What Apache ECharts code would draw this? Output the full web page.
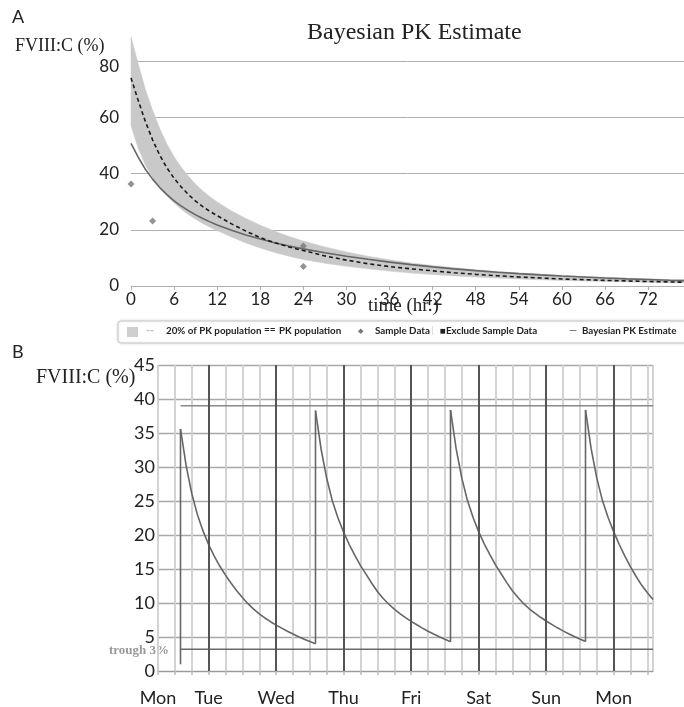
<!DOCTYPE html>
<html><head><meta charset="utf-8">
<script src="https://cdn.jsdelivr.net/npm/echarts@6/dist/echarts.min.js"></script>
<style>html,body{margin:0;padding:0;background:#fff}#c{width:684px;height:707px}</style>
</head><body><div id="c"></div>
<script>
// ---------- Panel A data ----------
const timeA        = [0, 1, 2, 3, 4, 5, 6, 7, 8, 9, 10, 11, 12, 14, 16, 18, 20, 22, 24, 27, 30, 33, 36, 39, 42, 45, 48, 51, 54, 57, 60, 63, 66, 69, 72, 75, 77];
const bandUpper    = [88.6, 79, 70, 62.5, 56, 50.5, 46, 42.2, 39, 36.2, 33.8, 31.7, 29.9, 26.7, 24.0, 21.6, 19.5, 17.6, 16.0, 13.9, 12.1, 10.6, 9.3, 8.2, 7.3, 6.5, 5.8, 5.2, 4.65, 4.2, 3.8, 3.4, 3.1, 2.8, 2.55, 2.3, 2.2];
const bandLower    = [57, 49, 43, 38.5, 35, 32, 29.5, 27.3, 25.4, 23.7, 22.2, 20.9, 19.7, 17.4, 15.3, 13.5, 11.9, 10.6, 9.4, 8.1, 7.0, 6.1, 5.3, 4.6, 4.1, 3.6, 3.2, 2.85, 2.5, 2.2, 2.0, 1.8, 1.6, 1.45, 1.3, 1.15, 1.1];
const pkPopulation = [74, 66, 58.5, 52, 46.5, 42, 38.3, 35.2, 32.5, 30.2, 28.2, 26.5, 25.0, 22.1, 19.5, 17.2, 15.4, 13.9, 12.6, 10.7, 9.2, 7.9, 6.9, 6.1, 5.4, 4.7, 4.15, 3.65, 3.2, 2.85, 2.5, 2.25, 2.0, 1.8, 1.6, 1.45, 1.35];
const bayesianPK   = [50.7, 45.8, 41.5, 38.0, 35.0, 32.5, 30.3, 28.4, 26.8, 25.3, 24.0, 22.8, 21.7, 19.8, 18.1, 16.7, 15.4, 14.2, 13.2, 11.8, 10.6, 9.5, 8.5, 7.6, 6.8, 6.1, 5.45, 4.9, 4.4, 3.95, 3.55, 3.2, 2.85, 2.55, 2.3, 2.05, 1.9];
const sampleTimes  = [0, 3, 24, 24];
const sampleValues = [36.3, 23.1, 14.2, 6.9];
const yTicksA = { min: 0, max: 80, step: 20 };
const xTicksA = { min: 0, max: 77, step: 6 };

// ---------- Panel B data ----------
const doseHours      = [8, 56, 104, 152];
const preDoseLevel   = 1.0;
const hoursAfterDose = [0, 2, 4, 6, 8, 10, 12, 14, 16, 18, 20, 22, 24, 26, 28, 30, 32, 34, 36, 38, 40, 42, 44, 46, 48];
const cycle1 = [35.6, 30.2, 26.1, 23.0, 20.6, 18.6, 16.9, 15.4, 14.1, 12.9, 11.8, 10.8, 9.9, 9.1, 8.4, 7.8, 7.25, 6.75, 6.3, 5.85, 5.43, 5.04, 4.68, 4.34, 4.0];
const cycle2 = [38.3, 32.6, 28.3, 25.0, 22.5, 20.4, 18.6, 17.0, 15.5, 14.2, 12.9, 11.7, 10.7, 9.85, 9.1, 8.45, 7.85, 7.3, 6.8, 6.3, 5.85, 5.43, 5.04, 4.67, 4.3];
const cycle3 = [38.4, 32.7, 28.4, 25.1, 22.6, 20.5, 18.7, 17.1, 15.6, 14.3, 13.0, 11.8, 10.8, 9.9, 9.15, 8.5, 7.9, 7.35, 6.85, 6.35, 5.9, 5.47, 5.08, 4.7, 4.33];
const cycle4 = [38.4, 32.7, 28.4, 25.1, 22.6, 20.5, 18.6, 16.9, 15.3, 13.9, 12.6, 11.5, 10.5];
const peakRefLevel = 39.0;
const troughLevel  = 3.2;
const dayNames = ['Mon', 'Tue', 'Wed', 'Thu', 'Fri', 'Sat', 'Sun', 'Mon'];
const dayHours = [0, 18, 42, 66, 90, 114, 138, 162];
const xMaxB = 176;
const yTicksB = { min: 0, max: 45, step: 5 };

// ---------- build ----------
const zip = (xs, ys) => xs.map((x, i) => [x, ys[i]]);
const cycles = [cycle1, cycle2, cycle3, cycle4];
const jumps = [];
cycles.forEach((c, k) => {
  const before = k === 0 ? preDoseLevel : cycles[k - 1][cycles[k - 1].length - 1];
  jumps.push([doseHours[k], before], [doseHours[k], c[0]], null);
});

const sans = 'Lato';
const serifF = '"Liberation Serif"';

const cycleSeries = cycles.map((c, k) => ({
  name: 'cycle' + (k + 1), type: 'line', xAxisIndex: 1, yAxisIndex: 1,
  data: c.map((v, i) => [doseHours[k] + hoursAfterDose[i], v]),
  symbol: 'none', smooth: false, lineStyle: { color: '#666', width: 1.6 }, z: 4
}));
cycleSeries[0].markLine = {
  silent: true, symbol: ['none', 'none'], label: { show: false },
  lineStyle: { type: 'solid', color: '#555', width: 2 },
  data: dayHours.slice(1).map(h => ({ xAxis: h }))
};

const chart = echarts.init(document.getElementById('c'), null, { renderer: 'canvas' });
chart.setOption({
  animation: false,
  backgroundColor: '#fff',
  grid: [
    { left: 131, top: 61, width: 553, height: 225 },
    { left: 158, top: 365, width: 495, height: 306 }
  ],
  xAxis: [
    {
      gridIndex: 0, type: 'value', min: xTicksA.min, max: xTicksA.max, interval: xTicksA.step,
      axisLine: { show: true, lineStyle: { color: '#b0b0b0', width: 1 } },
      axisTick: { show: true, length: 4, lineStyle: { color: '#b0b0b0' } },
      splitLine: { show: false },
      axisLabel: { showMaxLabel: false, color: '#222', fontFamily: sans, fontSize: 17, margin: 5 }
    },
    {
      gridIndex: 1, type: 'value', min: 0, max: xMaxB, interval: 6,
      axisLine: { show: true, lineStyle: { color: '#999', width: 1.2 } },
      axisTick: { show: true, length: 4, lineStyle: { color: '#bbb', width: 1.5 } },
      splitLine: { show: true, lineStyle: { color: '#cfcfcf', width: 1.8 } },
      axisLabel: {
        showMaxLabel: false, hideOverlap: false, color: '#222', fontFamily: sans, fontSize: 18, margin: 18,
        formatter: v => { const i = dayHours.indexOf(v); return i >= 0 ? dayNames[i] : ''; }
      }
    }
  ],
  yAxis: [
    {
      gridIndex: 0, type: 'value', min: yTicksA.min, max: yTicksA.max, interval: yTicksA.step,
      axisLine: { show: false }, axisTick: { show: false },
      splitLine: { show: true, lineStyle: { color: '#b0b0b0', width: 1 } },
      axisLabel: {
        color: '#222', fontFamily: sans, fontSize: 17, margin: 12,
        formatter: v => v === yTicksA.max ? '{d|' + v + '}' : String(v),
        rich: { d: { fontFamily: sans, fontSize: 17, color: '#222', padding: [12, 0, 0, 0] } }
      }
    },
    {
      gridIndex: 1, type: 'value', min: yTicksB.min, max: yTicksB.max, interval: yTicksB.step,
      axisLine: { show: false }, axisTick: { show: false },
      splitLine: { show: true, lineStyle: { color: '#a8a8a8', width: 1.3 } },
      axisLabel: { color: '#222', fontFamily: sans, fontSize: 18, margin: 3 }
    }
  ],
  series: [
    {
      name: '20% of PK population', type: 'custom', xAxisIndex: 0, yAxisIndex: 0, clip: false, silent: true, z: 1,
      data: timeA.map((t, i) => [t, bandLower[i], bandUpper[i]]),
      encode: { x: 0, y: [1, 2] },
      renderItem: (params, api) => {
        if (params.dataIndex !== 0) return null;
        const top = timeA.map((t, i) => api.coord([t, bandUpper[i]]));
        const bot = timeA.map((t, i) => api.coord([t, bandLower[i]])).reverse();
        return { type: 'polygon', shape: { points: top.concat(bot) }, style: { fill: '#c9c9c9', stroke: '#c9c9c9', lineWidth: 0.5 } };
      }
    },
    { name: 'Bayesian PK Estimate', type: 'line', xAxisIndex: 0, yAxisIndex: 0, data: zip(timeA, bayesianPK), z: 3,
      symbol: 'none', smooth: false, lineStyle: { color: '#666', width: 1.6 } },
    { name: 'PK population', type: 'line', xAxisIndex: 0, yAxisIndex: 0, data: zip(timeA, pkPopulation), z: 4,
      symbol: 'none', smooth: false, lineStyle: { color: '#1a1a1a', width: 1.6, type: [4, 3] } },
    { name: 'Sample Data', type: 'scatter', xAxisIndex: 0, yAxisIndex: 0, data: zip(sampleTimes, sampleValues), z: 5,
      symbol: 'diamond', symbolSize: 7, itemStyle: { color: '#777' }, clip: false },

    { name: 'peakRef', type: 'line', xAxisIndex: 1, yAxisIndex: 1,
      data: [[doseHours[0], peakRefLevel], [xMaxB, peakRefLevel]], symbol: 'none', lineStyle: { color: '#8a8a8a', width: 1.5 } },
    { name: 'trough', type: 'line', xAxisIndex: 1, yAxisIndex: 1,
      data: [[doseHours[0], troughLevel], [xMaxB, troughLevel]], symbol: 'none', lineStyle: { color: '#6a6a6a', width: 1.5 } },
    { name: 'jumps', type: 'line', xAxisIndex: 1, yAxisIndex: 1, data: jumps, connectNulls: false,
      symbol: 'none', lineStyle: { color: '#666', width: 1.6 }, z: 4 }
  ].concat(cycleSeries),
  graphic: [
    { type: 'text', left: 12, top: 8, style: { text: 'A', font: '18px ' + sans, fill: '#222' } },
    { type: 'text', left: 12, top: 343, style: { text: 'B', font: '18px ' + sans, fill: '#222' } },
    { type: 'text', left: 307, top: 21, style: { text: 'Bayesian PK Estimate', font: '24px ' + serifF, fill: '#222' } },
    { type: 'text', left: 15, top: 37, style: { text: 'FVIII:C (%)', font: '18px ' + serifF, fill: '#222' } },
    { type: 'text', left: 368, top: 297, style: { text: 'time (hr.)', font: '19px ' + serifF, fill: '#222' } },
    { type: 'text', left: 36, top: 368, style: { text: 'FVIII:C (%)', font: '20px ' + serifF, fill: '#222' } },
    { type: 'text', right: 684 - 169, top: 644, style: { text: 'trough 3%', font: 'bold 13px ' + serifF, fill: '#999', align: 'right' } },
    // legend
    { type: 'rect', shape: { x: 118, y: 321, width: 580, height: 22, r: 3 }, style: { fill: '#fff', stroke: '#c8c8c8', lineWidth: 1, shadowBlur: 3, shadowColor: 'rgba(0,0,0,0.15)' } },
    { type: 'rect', shape: { x: 127, y: 327, width: 11, height: 10 }, style: { fill: '#cfcfcf' } },
    { type: 'text', left: 146, top: 325, style: { text: '--', font: 'bold 11px ' + sans, fill: '#bbb' } },
    { type: 'text', left: 166, top: 326, style: { text: '20% of PK population', font: 'bold 9.8px ' + sans, fill: '#222' } },
    { type: 'text', left: 264, top: 325, style: { text: '==', font: 'bold 10px ' + sans, fill: '#222' } },
    { type: 'text', left: 279, top: 326, style: { text: 'PK population', font: 'bold 9.8px ' + sans, fill: '#222' } },
    { type: 'text', left: 358, top: 327, style: { text: '◆', font: '7px ' + sans, fill: '#777' } },
    { type: 'text', left: 375, top: 326, style: { text: 'Sample Data', font: 'bold 9.8px ' + sans, fill: '#222' } },
    { type: 'text', left: 431, top: 325, style: { text: '|', font: '10px ' + sans, fill: '#ccc' } },
    { type: 'text', left: 440, top: 326, style: { text: '■Exclude Sample Data', font: 'bold 9.8px ' + sans, fill: '#222' } },
    { type: 'text', left: 569, top: 325, style: { text: '—', font: 'bold 10px ' + sans, fill: '#666' } },
    { type: 'text', left: 582, top: 326, style: { text: 'Bayesian PK Estimate', font: 'bold 9.8px ' + sans, fill: '#222' } }
  ]
});
</script>
</body></html>
